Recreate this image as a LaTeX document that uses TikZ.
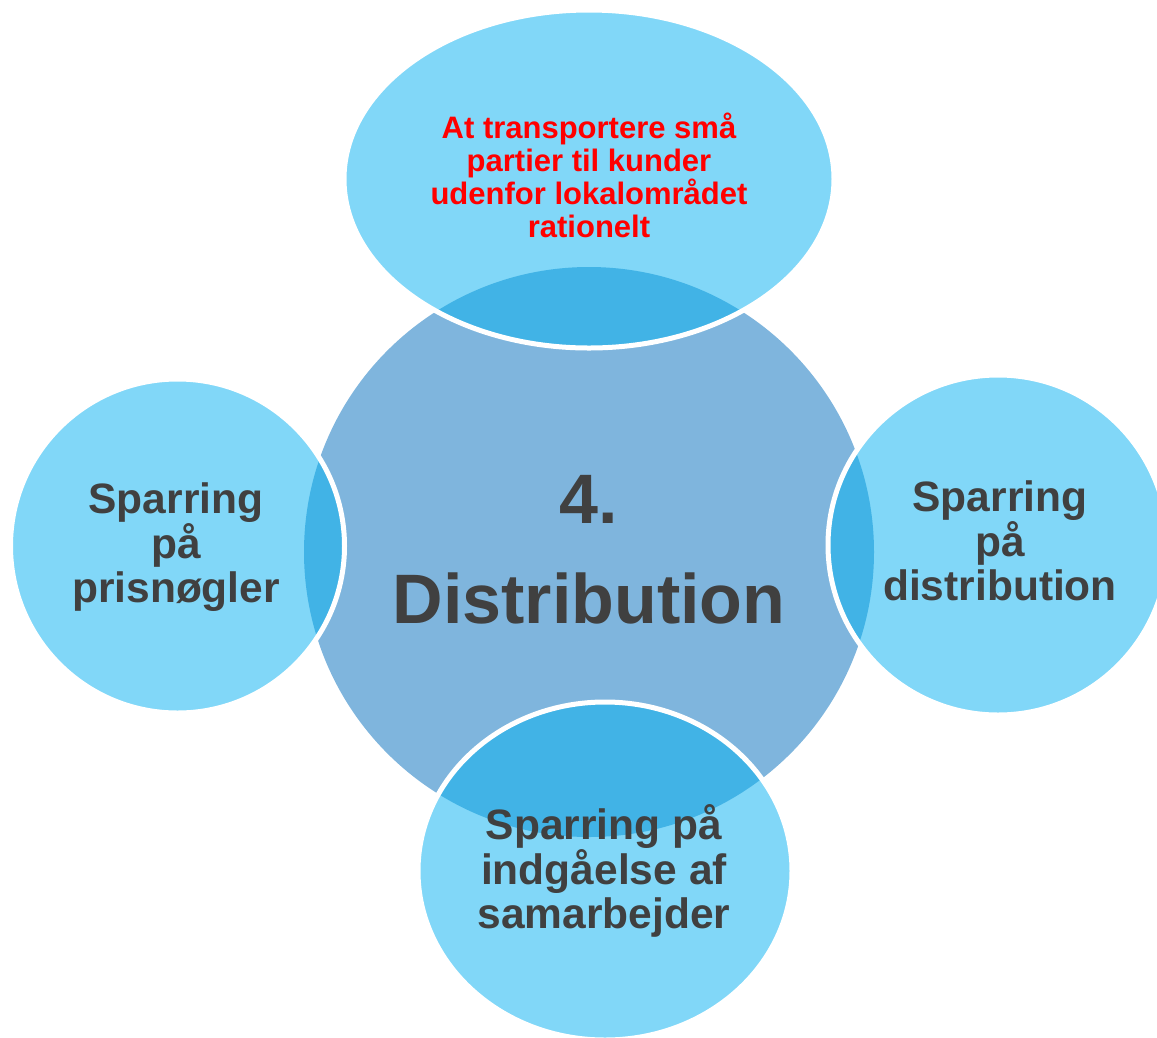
\documentclass[tikz,border=0pt]{standalone}
\usepackage{fontspec}
\setmainfont{Liberation Sans}
\definecolor{satfill}{HTML}{81D7F8}
\definecolor{hubfill}{HTML}{7FB5DD}
\definecolor{lapfill}{HTML}{41B3E6}
\definecolor{txtgray}{HTML}{404040}
\tikzset{
  sattext/.style={align=center, inner sep=0pt, anchor=base, text=txtgray,
    font=\fontsize{42.5}{43.5}\selectfont\bfseries},
  hubtext/.style={align=center, inner sep=0pt, anchor=base, text=txtgray,
    font=\fontsize{70}{100}\selectfont\bfseries},
  redtext/.style={align=center, inner sep=0pt, anchor=base, text=red,
    font=\fontsize{31}{32.7}\selectfont\bfseries},
  rim/.style={draw=white, line width=5pt}
}
\begin{document}
\begin{tikzpicture}[x=1pt,y=-1pt]
\useasboundingbox (0,0) rectangle (1157,1037);
\clip (0,0) rectangle (1157,1037);
\def\hub{(589,552) circle [radius=285pt]}
\def\satT{(589,179) ellipse [x radius=245pt, y radius=169pt]}
\def\satL{(177.5,546) circle [radius=167pt]}
\def\satR{(998,545) circle [radius=170pt]}
\def\satB{(605,871) ellipse [x radius=187pt, y radius=169pt]}
% hub
\fill[hubfill] \hub;
% satellites
\foreach \s in {\satT,\satL,\satR,\satB}{
  \fill[satfill] \s;
  \begin{scope}
    \clip \s;
    \fill[lapfill] \hub;
  \end{scope}
  \draw[rim] \s;
}
% texts (anchor = baseline of the last line)
\node[hubtext] (hub) at (589,623) {4.\\Distribution};
\node[redtext] (top) at (589,237) {At transportere små\\partier til kunder\\udenfor lokalområdet\\rationelt};
\node[sattext] (left) at (176,602) {Sparring\\på\\prisnøgler};
\node[sattext] (right) at (1000,600) {Sparring\\på\\distribution};
\node[sattext] (bottom) at (604,928) {Sparring på\\indgåelse af\\samarbejder};
\end{tikzpicture}
\end{document}
